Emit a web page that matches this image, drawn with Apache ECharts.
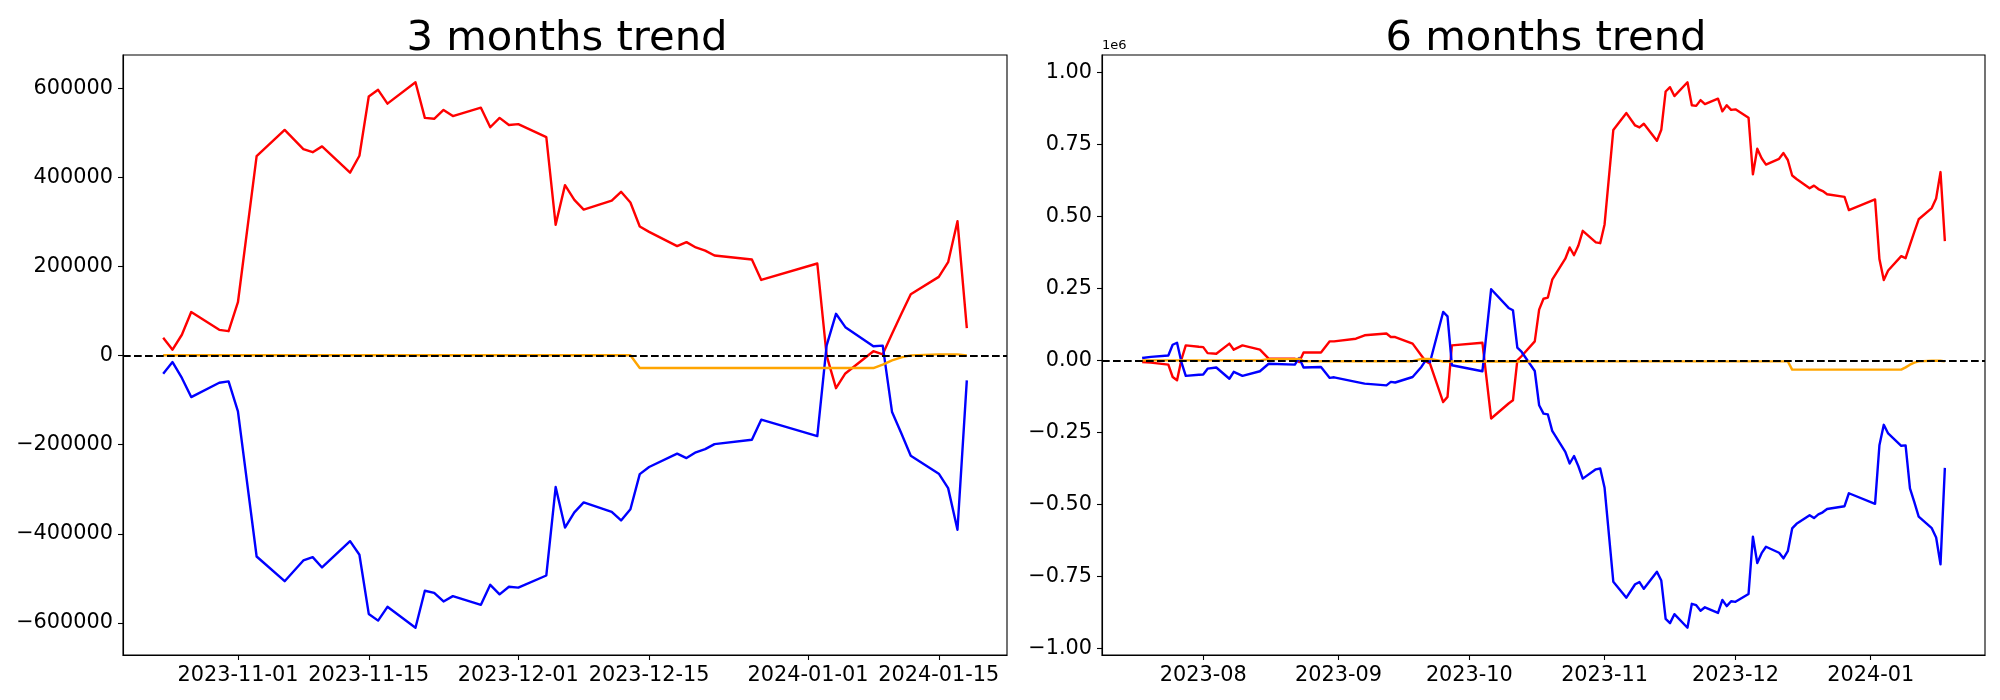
<!DOCTYPE html>
<html><head><meta charset="utf-8">
<script src="https://cdn.jsdelivr.net/npm/echarts@6/dist/echarts.min.js"></script>
<style>html,body{margin:0;padding:0;background:#fff}#c{width:2000px;height:700px}</style>
</head><body><div id="c"></div>
<script>
// ---------- data: 3 months ----------
const dates3 = ['2023-10-24','2023-10-25','2023-10-26','2023-10-27','2023-10-30','2023-10-31',
 '2023-11-01','2023-11-03','2023-11-06','2023-11-08','2023-11-09','2023-11-10','2023-11-13','2023-11-14','2023-11-15','2023-11-16','2023-11-17','2023-11-20','2023-11-21','2023-11-22','2023-11-23','2023-11-24','2023-11-27','2023-11-28','2023-11-29','2023-11-30',
 '2023-12-01','2023-12-04','2023-12-05','2023-12-06','2023-12-07','2023-12-08','2023-12-11','2023-12-12','2023-12-13','2023-12-14','2023-12-15','2023-12-18','2023-12-19','2023-12-20','2023-12-21','2023-12-22','2023-12-26','2023-12-27',
 '2024-01-02','2024-01-03','2024-01-04','2024-01-05','2024-01-08','2024-01-09','2024-01-10','2024-01-11','2024-01-12','2024-01-15','2024-01-16','2024-01-17','2024-01-18'];
const red3 = [40000,13500,47000,98000,58000,55000,
 120000,448000,507000,464000,457000,470000,411000,449000,582000,597000,566000,614000,534000,532000,552000,538000,557000,513000,534000,518000,
 520000,491000,294000,383000,350000,328000,348000,368000,344000,290000,278000,246000,255000,243000,236000,225000,216000,170000,
 207000,0,-73000,-40000,10000,3000,49000,94000,138000,177000,210000,302000,62000];
const blue3 = [-40500,-14400,-50000,-93000,-60700,-57800,
 -125000,-451000,-506500,-460000,-452500,-475700,-416600,-447000,-580000,-595000,-564000,-611000,-528000,-532600,-552000,-540000,-559600,-514600,-536000,-519000,
 -521000,-493700,-295000,-386000,-352000,-329600,-350600,-370000,-345000,-266000,-250000,-220000,-230000,-217000,-210000,-198600,-188800,-143800,
 -180600,23000,94000,64000,21000,22500,-126700,-175000,-224700,-265000,-297500,-391000,-55500];
const orange3 = [1000,1000,1000,1000,1000,1000,
 1000,1000,1000,1000,1000,1000,1000,1000,1000,1000,1000,1000,1000,1000,1000,1000,1000,1000,1000,1000,
 1000,1000,1000,1000,1000,1000,1000,1000,1000,-27800,-27800,-27800,-27800,-27800,-27800,-27800,-27800,-27800,
 -27800,-27800,-27800,-27800,-27800,-20000,-10500,-3800,700,2900,2900,2900,700];

// ---------- data: 6 months ----------
const dates6Early = ['2023-07-18','2023-07-20','2023-07-24','2023-07-25','2023-07-26','2023-07-27','2023-07-28','2023-07-31',
 '2023-08-01','2023-08-02','2023-08-04','2023-08-07','2023-08-08','2023-08-10','2023-08-14','2023-08-16','2023-08-22','2023-08-23','2023-08-24','2023-08-28','2023-08-30','2023-08-31',
 '2023-09-05','2023-09-07','2023-09-12','2023-09-13','2023-09-14','2023-09-18','2023-09-20','2023-09-21','2023-09-22','2023-09-25','2023-09-26','2023-09-27',
 '2023-10-04','2023-10-06','2023-10-10','2023-10-11','2023-10-12','2023-10-13','2023-10-16','2023-10-17','2023-10-18','2023-10-19','2023-10-20','2023-10-23'];
const dates6 = dates6Early.concat(dates3);
const red6 = [-6000,-8000,-15000,-58000,-69000,2000,52000,47000,
 46000,25000,23000,58000,37000,52000,37000,6000,6000,-6000,27000,27000,66000,66000,
 75000,87000,93000,81000,81000,58000,17000,-3000,-12000,-145000,-127000,52000,
 61000,-202000,-150000,-139000,0,15000,66000,176000,214000,218000,280000,353000,
 392000,365500,399000,450000,410000,407000,
 472000,800000,859000,816000,809000,822000,763000,801000,934000,949000,918000,966000,886000,884000,904000,890000,909000,865000,886000,870000,
 872000,843000,646000,735000,702000,680000,700000,720000,696000,642000,630000,598000,607000,595000,588000,577000,568000,522000,
 559000,352000,279000,312000,362000,355000,401000,446000,490000,529000,562000,654000,414000];
const blue6 = [8000,12000,17000,54000,61000,-6000,-54000,-50000,
 -49000,-29000,-25000,-64000,-40000,-54000,-38000,-12000,-15000,8000,-25000,-23000,-61000,-59000,
 -75000,-81000,-87000,-75000,-77000,-58000,-23000,0,-6000,168000,153000,-17000,
 -38000,247000,182000,174000,44000,29000,-37000,-156000,-185000,-188000,-245000,-318000,
 -358500,-332400,-368000,-411000,-378700,-375800,
 -443000,-769000,-824500,-778000,-770500,-793700,-734600,-765000,-898000,-913000,-882000,-929000,-846000,-850600,-870000,-858000,-877600,-832600,-854000,-837000,
 -839000,-811700,-613000,-704000,-670000,-647600,-668600,-688000,-663000,-584000,-568000,-538000,-548000,-535000,-528000,-516600,-506800,-461800,
 -498600,-295000,-224000,-254000,-297000,-295500,-444700,-493000,-542700,-583000,-615500,-709000,-373500];
const orange6 = [0,0,0,0,0,0,0,0,
 0,0,0,0,0,0,0,4000,4000,6000,-3000,-3000,-3000,-3000,
 -3000,-3000,-3000,-3000,-3000,-3000,5000,5000,5000,-4000,-4000,-4000,
 -4000,-4000,-4000,-4000,-4000,-4000,-4000,-4000,-4000,-4000,-4000,-4000,
 -3500,-3500,-3500,-3500,-3500,-3500,
 -3500,-3500,-3500,-3500,-3500,-3500,-3500,-3500,-3500,-3500,-3500,-3500,-3500,-3500,-3500,-3500,-3500,-3500,-3500,-3500,
 -3500,-3500,-3500,-3500,-3500,-3500,-3500,-3500,-3500,-32300,-32300,-32300,-32300,-32300,-32300,-32300,-32300,-32300,
 -32300,-32300,-32300,-32300,-32300,-24500,-15000,-8300,-3800,-1600,-1600,-1600,-3800];

// ---------- tick labels ----------
const titles = ['3 months trend', '6 months trend'];
const xTicks3 = ['2023-11-01','2023-11-15','2023-12-01','2023-12-15','2024-01-01','2024-01-15'];
const xTicks6 = ['2023-08-01','2023-09-01','2023-10-01','2023-11-01','2023-12-01','2024-01-01'];
const xTickLabels6 = ['2023-08','2023-09','2023-10','2023-11','2023-12','2024-01'];
const yTicks3 = [-600000,-400000,-200000,0,200000,400000,600000];
const yTicks6 = [-1000000,-750000,-500000,-250000,0,250000,500000,750000,1000000];

// ---------- helpers ----------
const FONT = 'DejaVu Sans';
function ts(s){const p=s.split('-').map(Number);return Date.UTC(p[0],p[1]-1,p[2]);}
function pairs(d,v){return d.map((x,i)=>[ts(x),v[i]]);}
function mn(s){return s.replace('-', '\u2212');}
function xr(d){const a=ts(d[0]),b=ts(d[d.length-1]);const m=(b-a)*0.05;return [a-m,b+m];}
function yr(arrs){let lo=Infinity,hi=-Infinity;arrs.forEach(a=>a.forEach(v=>{lo=Math.min(lo,v);hi=Math.max(hi,v);}));lo=Math.min(lo,0);hi=Math.max(hi,0);const m=(hi-lo)*0.05;return [lo-m,hi+m];}

const xr3 = xr(dates3), xr6 = xr(dates6);
const yr3 = yr([red3,blue3,orange3]), yr6 = yr([red6,blue6,orange6]);
const lab3 = new Map(xTicks3.map(d=>[ts(d), d]));
const lab6 = new Map(xTicks6.map((d,i)=>[ts(d), xTickLabels6[i]]));

const labelStyle = {fontFamily: FONT, fontSize: 20.8, color: '#000'};
function xAxis(gi, range, ticks, labMap){
  const cv = ticks.map(ts);
  return {type:'value', gridIndex:gi, min:range[0], max:range[1], scale:true,
    axisLine:{show:true, onZero:false, lineStyle:{color:'#000', width:1.1}},
    axisTick:{show:true, length:5, lineStyle:{color:'#000', width:1.1}, customValues: cv},
    axisLabel:Object.assign({margin:10, customValues: cv, hideOverlap:false, showMinLabel:true, showMaxLabel:true,
      formatter: v => labMap.get(v) || ''}, labelStyle),
    splitLine:{show:false}};
}
function yAxis(gi, range, ticks, fmt){
  return {type:'value', gridIndex:gi, min:range[0], max:range[1], scale:true,
    axisLine:{show:true, onZero:false, lineStyle:{color:'#000', width:1.1}},
    axisTick:{show:true, length:5, lineStyle:{color:'#000', width:1.1}, customValues: ticks},
    axisLabel:Object.assign({margin:10, customValues: ticks, formatter: fmt}, labelStyle),
    splitLine:{show:false}};
}
function lineSeries(gi, d, v, color, extra){
  return Object.assign({type:'line', xAxisIndex:gi, yAxisIndex:gi, data:pairs(d,v), showSymbol:false, symbol:'none',
    lineStyle:{color:color, width:2.4, join:'round', cap:'butt'}, itemStyle:{color:color}, animation:false, silent:true}, extra||{});
}
const zeroMark = {markLine:{silent:true, symbol:['none','none'], animation:false, label:{show:false},
  lineStyle:{color:'#000', width:2.2, type:[7.7,3.3]}, data:[{yAxis:0}]}};

const chart = echarts.init(document.getElementById('c'), null, {renderer:'canvas'});
chart.setOption({
  backgroundColor:'#fff',
  animation:false,
  title:[
    {text:titles[0], left:562, top:13, textAlign:'center', textStyle:{fontFamily:FONT, fontSize:41.7, fontWeight:'normal', color:'#000'}},
    {text:titles[1], left:1541, top:13, textAlign:'center', textStyle:{fontFamily:FONT, fontSize:41.7, fontWeight:'normal', color:'#000'}}
  ],
  graphic:[{type:'text', left:1102, top:39, style:{text:'1e6', fontFamily:FONT, fontSize:13, fill:'#000'}}],
  grid:[
    {left:123, top:55, width:884, height:600, show:true, borderColor:'#000', borderWidth:1.1, containLabel:false, outerBoundsMode:'none'},
    {left:1102, top:55, width:883, height:600, show:true, borderColor:'#000', borderWidth:1.1, containLabel:false, outerBoundsMode:'none'}
  ],
  xAxis:[xAxis(0, xr3, xTicks3, lab3), xAxis(1, xr6, xTicks6, lab6)],
  yAxis:[
    yAxis(0, yr3, yTicks3, v => mn(String(v))),
    yAxis(1, yr6, yTicks6, v => mn((v/1e6).toFixed(2)))
  ],
  series:[
    lineSeries(0, dates3, red3, '#ff0000'),
    lineSeries(0, dates3, blue3, '#0000ff'),
    lineSeries(0, dates3, orange3, '#ffa500', zeroMark),
    lineSeries(1, dates6, red6, '#ff0000'),
    lineSeries(1, dates6, blue6, '#0000ff'),
    lineSeries(1, dates6, orange6, '#ffa500', zeroMark)
  ]
});
</script></body></html>
